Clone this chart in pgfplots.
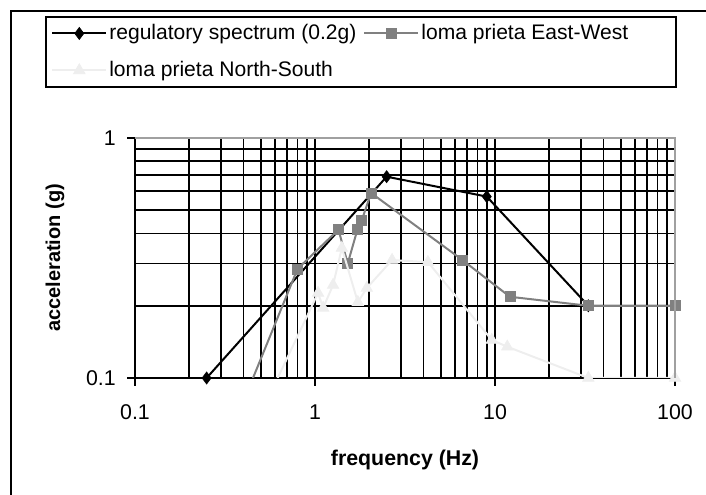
\documentclass[border=0pt]{standalone}
\usepackage{pgfplots}
\pgfplotsset{compat=1.18}
\usepackage{fontspec}
\setmainfont{Liberation Sans}
\definecolor{ewgray}{RGB}{128,128,128}
\definecolor{nsgray}{RGB}{238,238,238}
\definecolor{bordergray}{RGB}{160,160,160}
\begin{document}
\fontsize{15pt}{18pt}\selectfont
\begin{tikzpicture}
\useasboundingbox (0,0) rectangle (529.5pt,371.25pt);
\draw[line width=1.5pt] (8.25pt,-20pt) -- (8.25pt,363pt) -- (560pt,363pt);
\begin{loglogaxis}[
  at={(101.25pt,87.75pt)}, anchor=south west,
  scale only axis, width=405pt, height=180pt,
  xmin=0.1, xmax=100, ymin=0.1, ymax=1,
  xtick={0.1,1,10,100}, xticklabels={0.1,1,10,100},
  ytick={0.1,1}, yticklabels={0.1,1},
  minor xtick={0.2,0.3,0.4,0.5,0.6,0.7,0.8,0.9,2,3,4,5,6,7,8,9,20,30,40,50,60,70,80,90},
  minor ytick={0.2,0.3,0.4,0.5,0.6,0.7,0.8,0.9},
  grid=both,
  major grid style={black, line width=1.3pt},
  minor grid style={black, line width=1.3pt},
  axis x line*=bottom, axis y line*=left,
  axis line style={black, line width=1.3pt},
  tick align=outside, major tick length=6pt, minor tick length=0pt,
  tick style={black, line width=1.1pt},
  ticklabel style={font=\fontsize{16pt}{19pt}\selectfont},
  xticklabel style={yshift=-9pt},
  yticklabel style={xshift=-3.3pt},
  xlabel={\bfseries frequency (Hz)},
  ylabel={\bfseries acceleration (g)},
  xlabel style={at={(axis description cs:0.5,-0.34)}, anchor=center, font=\fontsize{16pt}{19pt}\selectfont},
  ylabel style={at={(axis description cs:-0.148,0.5)}, anchor=center, font=\fontsize{15pt}{18pt}\selectfont},
  clip mode=individual,
  legend columns=2,
  legend cell align=left,
  legend style={at={(axis description cs:-0.1667,1.5083)}, anchor=north west,
    draw=black, line width=1.5pt, inner sep=4pt, row sep=11pt,
    nodes={inner sep=1.5pt},
    font=\fontsize{15.8pt}{19pt}\selectfont,
    /tikz/every even column/.append style={column sep=3.75pt}},
  legend image code/.code={\draw[mark repeat=2,mark phase=2] plot coordinates {(0pt,0pt) (20.25pt,0pt) (40.5pt,0pt)};},
  after end axis/.code={\draw[bordergray, line width=1.5pt] (rel axis cs:0,1) -- (rel axis cs:1,1) -- (rel axis cs:1,0);},
]
\addplot[black, line width=1.5pt, mark=diamond*, mark size=4.5pt, mark options={solid, fill=black, line width=0.5pt}]
  coordinates {(0.25,0.1) (2.5,0.69) (9,0.57) (33,0.2) (100,0.2)};
\addlegendentry{regulatory spectrum (0.2g)}
\addplot[ewgray, line width=1.5pt, mark=square*, mark size=3.75pt, mark options={solid, fill=ewgray, line width=0.5pt}]
  coordinates {(0.3,0.047) (0.8,0.285) (1.35,0.415) (1.52,0.30) (1.72,0.415) (1.82,0.455) (2.05,0.59) (6.6,0.31) (12.1,0.218) (33,0.2) (100,0.2)};
\addlegendentry{loma prieta East-West\kern30pt}
\addplot[nsgray, line width=1.5pt, mark=triangle*, mark size=5pt, mark options={solid, fill=nsgray, line width=0.5pt}]
  coordinates {(0.4,0.05) (1.04,0.226) (1.11,0.196) (1.26,0.244) (1.41,0.348) (1.73,0.207) (1.94,0.237) (2.68,0.31) (4.24,0.304) (9.6,0.144) (11.7,0.135) (33,0.1) (100,0.1)};
\addlegendentry{loma prieta North-South}
\end{loglogaxis}
\end{tikzpicture}
\end{document}
